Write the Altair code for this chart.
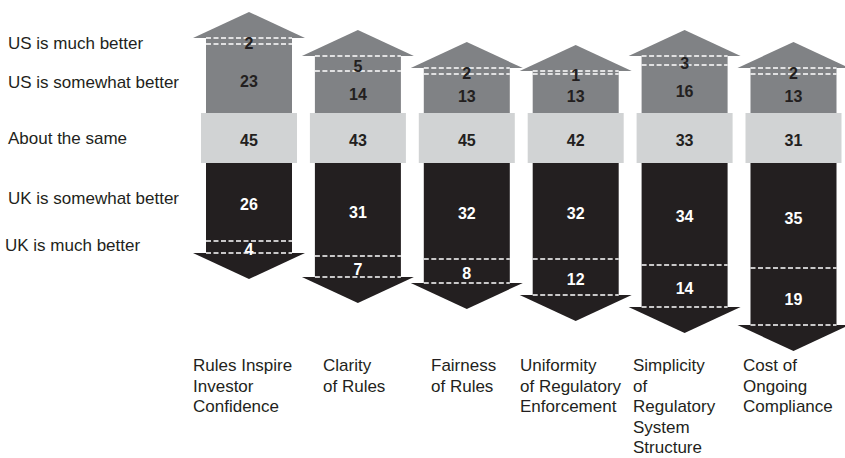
import altair as alt
import pandas as pd

# ---------------- data ----------------
categories = [
    "Rules Inspire\nInvestor\nConfidence",
    "Clarity\nof Rules",
    "Fairness\nof Rules",
    "Uniformity\nof Regulatory\nEnforcement",
    "Simplicity\nof\nRegulatory\nSystem\nStructure",
    "Cost of\nOngoing\nCompliance",
]
us_much = [2, 5, 2, 1, 3, 2]
us_somewhat = [23, 14, 13, 13, 16, 13]
about_same = [45, 43, 45, 42, 33, 31]
uk_somewhat = [26, 31, 32, 32, 34, 35]
uk_much = [4, 7, 8, 12, 14, 19]
row_labels = [
    "US is much better",
    "US is somewhat better",
    "About the same",
    "UK is somewhat better",
    "UK is much better",
]

# ---------------- layout / style ----------------
W, H = 845, 458
X0_PX, COL_PX = 249.0, 108.9          # first column centre, column spacing
Y0_PX, PX_PER_UNIT = 113.0, 3.0       # top of "about the same" band, px per %
BAND = 50.0 / PX_PER_UNIT             # fixed band height, in % units

def px_x(px):
    return (px - X0_PX) / COL_PX

def px_y(py):
    return (Y0_PX - py) / PX_PER_UNIT

XDOM = [px_x(0), px_x(W)]
YDOM = [px_y(H), px_y(0)]
RECT_HW = 43 / COL_PX
BAND_HW = 48 / COL_PX
ARROW_W = 112
HEAD_H = 26

GREY = "#808285"
LIGHT = "#d1d3d4"
BLACK = "#231f20"
FONT = "Liberation Sans"

xs = alt.Scale(domain=XDOM, nice=False, zero=False)
ys = alt.Scale(domain=YDOM, nice=False, zero=False)

# ---------------- frames ----------------
rects, rules, nums, heads_up, heads_dn, cats = [], [], [], [], [], []
cat_label_px = [193, 323, 431, 520, 633, 743]
for i in range(len(categories)):
    top = us_somewhat[i] + us_much[i]
    bot = -BAND - uk_somewhat[i] - uk_much[i]
    rects.append(dict(x0=i - RECT_HW, x1=i + RECT_HW, y=0, y2=top, c=GREY))
    rects.append(dict(x0=i - BAND_HW, x1=i + BAND_HW, y=0, y2=-BAND, c=LIGHT))
    rects.append(dict(x0=i - RECT_HW, x1=i + RECT_HW, y=-BAND, y2=bot, c=BLACK))
    for yy in [us_somewhat[i], top, -BAND - uk_somewhat[i], bot]:
        rules.append(dict(x0=i - RECT_HW, x1=i + RECT_HW, y=yy))
    heads_up.append(dict(x=i, y=top))
    heads_dn.append(dict(x=i, y=bot))
    nums += [
        dict(x=i, y=us_somewhat[i] + us_much[i] / 2, t=str(us_much[i]), c=BLACK),
        dict(x=i, y=us_somewhat[i] / 2, t=str(us_somewhat[i]), c=BLACK),
        dict(x=i, y=-BAND / 2, t=str(about_same[i]), c=BLACK),
        dict(x=i, y=-BAND - uk_somewhat[i] / 2, t=str(uk_somewhat[i]), c="white"),
        dict(x=i, y=-BAND - uk_somewhat[i] - uk_much[i] / 2, t=str(uk_much[i]), c="white"),
    ]
    cats.append(dict(x=px_x(cat_label_px[i]), y=px_y(371), t=categories[i]))

row_px = [(8, 44), (8, 83), (8, 139), (8, 199), (5, 246)]
rows = [dict(x=px_x(a), y=px_y(b), t=row_labels[k]) for k, (a, b) in enumerate(row_px)]

rect_df = pd.DataFrame(rects)
rule_df = pd.DataFrame(rules)
num_df = pd.DataFrame(nums)
up_df = pd.DataFrame(heads_up)
dn_df = pd.DataFrame(heads_dn)
cat_df = pd.DataFrame(cats)
row_df = pd.DataFrame(rows)

# ---------------- marks ----------------
bars = alt.Chart(rect_df).mark_rect().encode(
    x=alt.X("x0:Q", scale=xs, axis=None),
    x2="x1:Q",
    y=alt.Y("y:Q", scale=ys, axis=None),
    y2="y2:Q",
    color=alt.Color("c:N", scale=None),
)

size = ARROW_W ** 2
k = HEAD_H / (ARROW_W / 2)
up = alt.Chart(up_df).mark_point(
    shape=f"M-1,0L0,{-k:.4f}L1,0Z", size=size, filled=True, opacity=1, color=GREY, strokeWidth=0
).encode(x=alt.X("x:Q", scale=xs, axis=None), y=alt.Y("y:Q", scale=ys, axis=None))

dn = alt.Chart(dn_df).mark_point(
    shape=f"M-1,0L0,{k:.4f}L1,0Z", size=size, filled=True, opacity=1, color=BLACK, strokeWidth=0
).encode(x=alt.X("x:Q", scale=xs, axis=None), y=alt.Y("y:Q", scale=ys, axis=None))

dashes = alt.Chart(rule_df).mark_rule(color="white", strokeWidth=1.6, strokeDash=[5, 2.5]).encode(
    x=alt.X("x0:Q", scale=xs, axis=None),
    x2="x1:Q",
    y=alt.Y("y:Q", scale=ys, axis=None),
)

numbers = alt.Chart(num_df).mark_text(
    font=FONT, fontSize=16, fontWeight="bold", baseline="middle", align="center", dy=3
).encode(
    x=alt.X("x:Q", scale=xs, axis=None),
    y=alt.Y("y:Q", scale=ys, axis=None),
    text="t:N",
    color=alt.Color("c:N", scale=None),
)

cat_text = alt.Chart(cat_df).mark_text(
    font=FONT, fontSize=17, align="left", baseline="alphabetic", lineBreak="\n", lineHeight=20.5, color=BLACK
).encode(
    x=alt.X("x:Q", scale=xs, axis=None),
    y=alt.Y("y:Q", scale=ys, axis=None),
    text="t:N",
)

row_text = alt.Chart(row_df).mark_text(
    font=FONT, fontSize=17, align="left", baseline="middle", color=BLACK
).encode(
    x=alt.X("x:Q", scale=xs, axis=None),
    y=alt.Y("y:Q", scale=ys, axis=None),
    text="t:N",
)

chart = alt.layer(bars, up, dn, dashes, numbers, cat_text, row_text).properties(
    width=W, height=H, autosize=alt.AutoSizeParams(type="none"), padding=0
).configure_view(stroke=None)

chart.save("out.html", embed_options={"renderer": "svg", "actions": False})
